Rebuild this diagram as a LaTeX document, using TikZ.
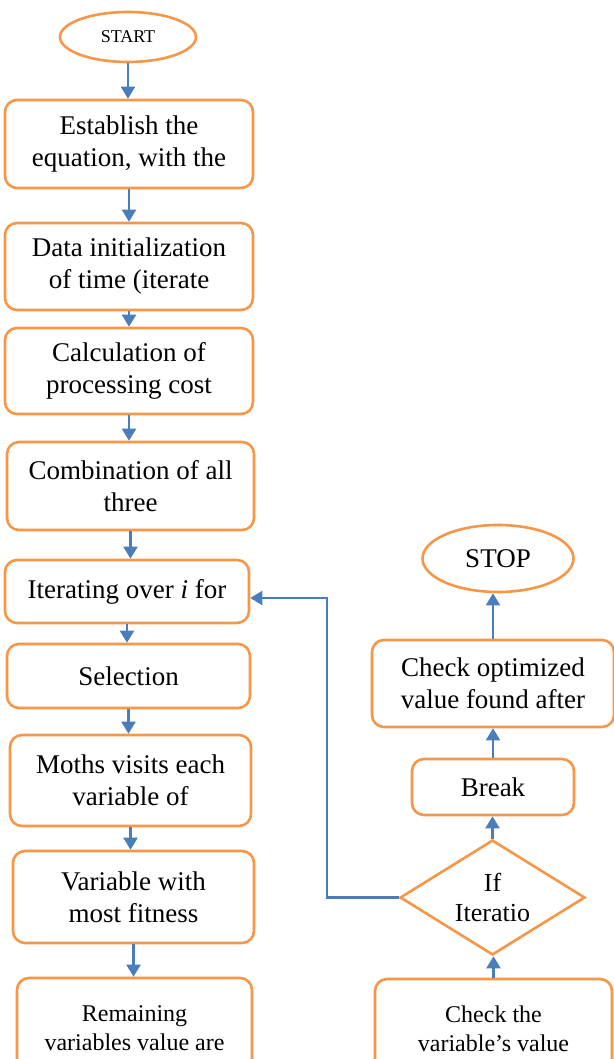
\documentclass[tikz,border=0pt]{standalone}
\usepackage{fontspec}
\setmainfont{Liberation Serif}
\usetikzlibrary{positioning,arrows.meta,shapes.geometric,calc}
\definecolor{edge}{HTML}{F79646}
\definecolor{flow}{HTML}{4A7EBB}

\begin{document}
\begin{tikzpicture}[x=0.5pt,y=-0.5pt,
  term/.style={ellipse,draw=edge,line width=1.3pt,fill=white,inner sep=0pt},
  stepbox/.style={rounded corners=6pt,draw=edge,line width=1.3pt,fill=white,align=center,inner sep=2pt,font=\fontsize{13.5}{16}\selectfont},
  small/.style={font=\fontsize{12}{14.5}\selectfont},
  test/.style={diamond,aspect=1.6,draw=edge,line width=1.3pt,fill=white,align=center,inner sep=0pt,font=\fontsize{13}{15}\selectfont},
  ar/.style={-{Triangle[length=6pt,width=7pt]},line width=1.1pt,color=flow}]
\useasboundingbox (0,0) rectangle (614,1059);
\clip (0,0) rectangle (614,1059);
% left column
\node[term,minimum width=68pt,minimum height=25pt,font=\fontsize{9}{11}\selectfont] (st) at (128,37) {START};
\node[stepbox,minimum width=124pt,minimum height=44pt] (b1) at (129,144) {Establish the\\equation, with the};
\node[stepbox,minimum width=124pt,minimum height=43.5pt] (b2) at (129,266.5) {Data initialization\\of time (iterate};
\node[stepbox,minimum width=124pt,minimum height=43pt] (b3) at (129,371) {Calculation of\\processing cost};
\node[stepbox,minimum width=123.5pt,minimum height=44pt] (b4) at (130.5,486) {Combination of all\\three};
\node[stepbox,minimum width=122pt,minimum height=31.5pt] (b5) at (127,591.5) {Iterating over \textit{i} for};
\node[stepbox,minimum width=121.5pt,minimum height=32pt] (b6) at (128.5,676) {Selection};
\node[stepbox,minimum width=120.5pt,minimum height=45.5pt] (b7) at (130.5,780.5) {Moths visits each\\variable of};
\node[stepbox,minimum width=120.5pt,minimum height=46pt] (b8) at (133.5,897) {Variable with\\most fitness};
\node[stepbox,small,minimum width=117.5pt,minimum height=50pt] (b9) at (134.5,1028) {Remaining\\variables value are};
% right column
\node[term,minimum width=75.5pt,minimum height=33.5pt,font=\fontsize{13.5}{16}\selectfont] (stop) at (498,558.5) {STOP};
\node[stepbox,minimum width=121pt,minimum height=43.5pt] (chk) at (493,683.5) {Check optimized\\value found after};
\node[stepbox,minimum width=81pt,minimum height=28pt] (brk) at (493,787) {Break};
\node[test,minimum width=92.5pt,minimum height=57.5pt] (dia) at (492.5,897.5) {If\\Iteratio};
\node[stepbox,small,minimum width=118.5pt,minimum height=50pt] (chkv) at (493.5,1029) {Check the\\variable’s value};
% connectors
\foreach \a/\b in {st/b1,b1/b2,b2/b3,b3/b4,b4/b5,b5/b6,b6/b7,b7/b8,b8/b9}
  \draw[ar] (\a) -- (\a |- \b.north);
\foreach \a/\b in {chkv/dia,dia/brk,brk/chk,chk/stop}
  \draw[ar] (\a) -- (\a |- \b.south);
\coordinate (lp) at (327,598);
\draw[ar] (dia.west) -| (lp) -- (lp -| b5.east);
\end{tikzpicture}
\end{document}
